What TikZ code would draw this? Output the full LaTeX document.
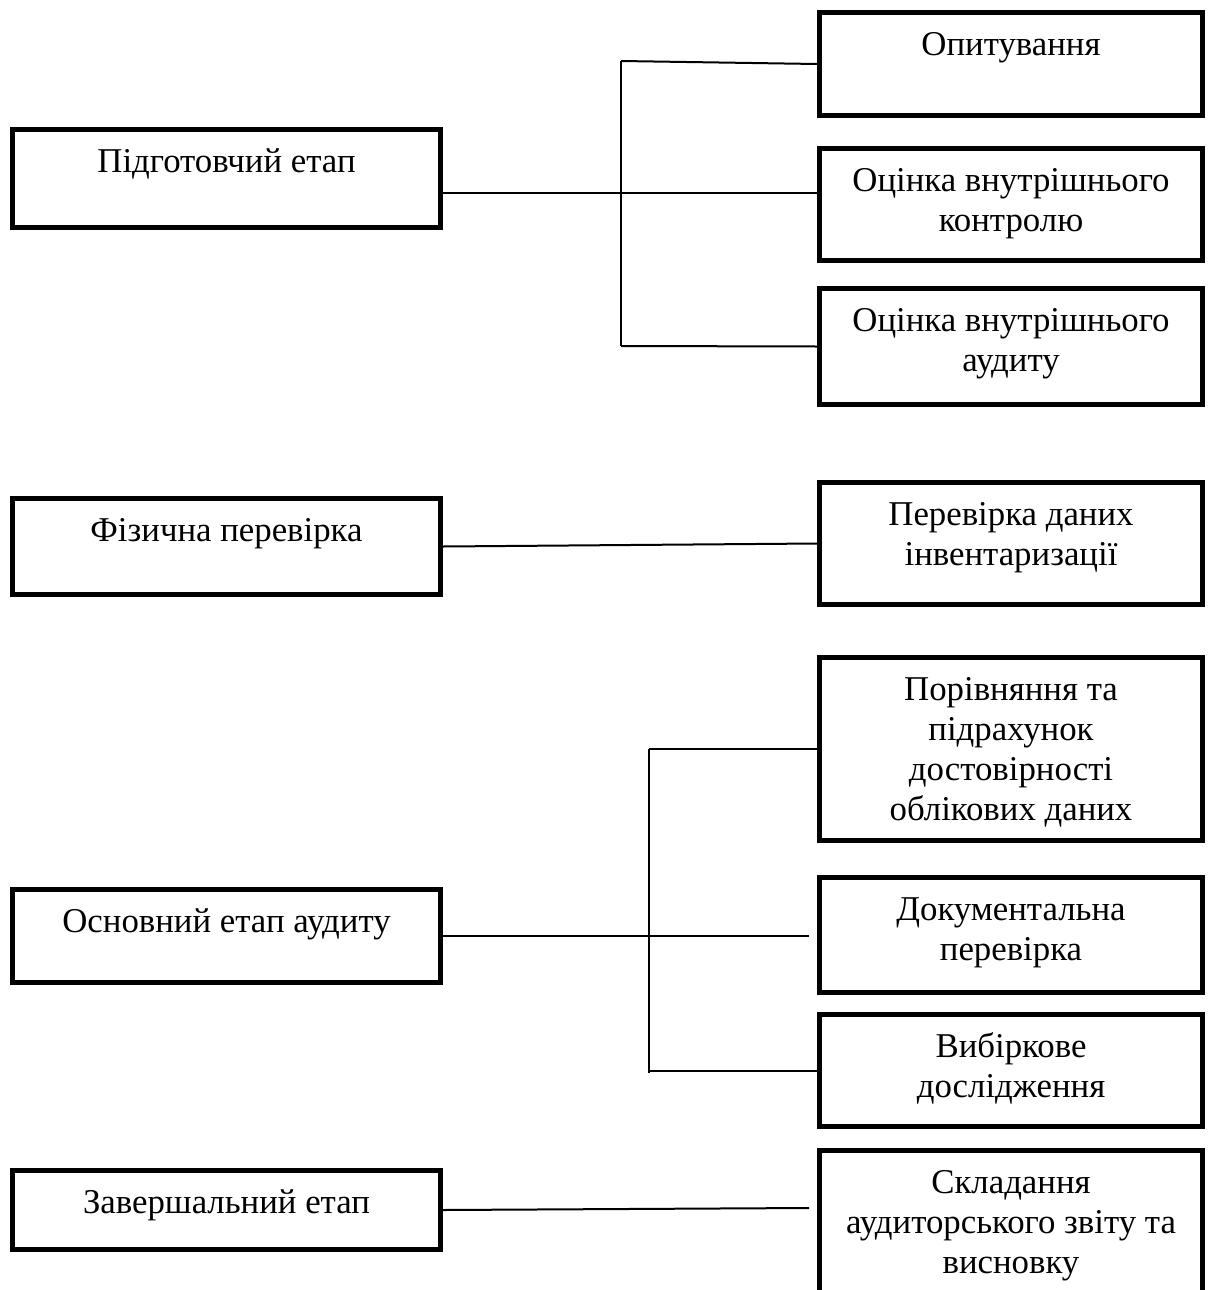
\documentclass[tikz,border=0pt]{standalone}
\usepackage{fontspec}
\setmainfont{Liberation Serif}
\begin{document}
\begin{tikzpicture}[x=0.5pt,y=-0.5pt,
  stagebox/.style={draw=black,line width=2.5pt,rectangle,inner sep=0pt,minimum width=214pt},
  subbox/.style={draw=black,line width=2.5pt,rectangle,inner sep=0pt,minimum width=191.5pt},
  lbl/.style={anchor=north,inner sep=0pt,align=center,font=\fontsize{17.4}{20}\selectfont},
  conn/.style={draw=black,line width=1pt}]
\clip (0,0) rectangle (1214,1290);
\fill[white] (0,0) rectangle (1214,1290);
% left column
\node[stagebox,minimum height=49pt] (L1) at (226.5,178.5) {};
\node[stagebox,minimum height=48pt] (L2) at (226.5,546.5) {};
\node[stagebox,minimum height=46.5pt] (L3) at (226.5,936) {};
\node[stagebox,minimum height=39.5pt] (L4) at (226.5,1210) {};
% right column
\node[subbox,minimum height=51.5pt] (R1) at (1011,64) {};
\node[subbox,minimum height=56pt] (R2) at (1011,204.5) {};
\node[subbox,minimum height=58pt] (R3) at (1011,346.5) {};
\node[subbox,minimum height=61pt] (R4) at (1011,543.5) {};
\node[subbox,minimum height=91.5pt] (R5) at (1011,749) {};
\node[subbox,minimum height=57.5pt] (R6) at (1011,935) {};
\node[subbox,minimum height=56pt] (R7) at (1011,1070.5) {};
\node[subbox,minimum height=73.5pt] (R8) at (1011,1224) {};
% texts
\node[lbl] (tL1) at ([yshift=-8.5pt]L1.north) {\strut Підготовчий етап};
\node[lbl] (tL2) at ([yshift=-8.5pt]L2.north) {\strut Фізична перевірка};
\node[lbl] (tL3) at ([yshift=-8.5pt]L3.north) {\strut Основний етап аудиту};
\node[lbl] (tL4) at ([yshift=-8.5pt]L4.north) {\strut Завершальний етап};
\node[lbl] (tR1) at ([yshift=-8.5pt]R1.north) {\strut Опитування};
\node[lbl] (tR2) at ([yshift=-8.5pt]R2.north) {\strut Оцінка внутрішнього\\контролю};
\node[lbl] (tR3) at ([yshift=-8.5pt]R3.north) {\strut Оцінка внутрішнього\\аудиту};
\node[lbl] (tR4) at ([yshift=-8.5pt]R4.north) {\strut Перевірка даних\\інвентаризації};
\node[lbl] (tR5) at ([yshift=-8.5pt]R5.north) {\strut Порівняння та\\підрахунок\\достовірності\\облікових даних};
\node[lbl] (tR6) at ([yshift=-8.5pt]R6.north) {\strut Документальна\\перевірка};
\node[lbl] (tR7) at ([yshift=-8.5pt]R7.north) {\strut Вибіркове\\дослідження};
\node[lbl] (tR8) at ([yshift=-8.5pt]R8.north) {\strut Складання\\аудиторського звіту та\\висновку};
% junction coordinates
\coordinate (j1top) at (621,61);
\coordinate (j1bot) at (621,346);
\coordinate (j2top) at (649,749);
\coordinate (j2bot) at (649,1073);
\coordinate (e3) at (809,936);
\coordinate (e4) at (809,1208);
% connectors: preparatory stage
\draw[conn] (j1top) -- (j1bot);
\draw[conn] (j1top) -- (R1.west);
\draw[conn] ([yshift=-7.25pt]L1.east) -- ([yshift=5.75pt]R2.west);
\draw[conn] (j1bot) -- (R3.west);
% physical check
\draw[conn] (L2.east) -- (R4.west);
% main stage
\draw[conn] (j2top) -- (j2bot);
\draw[conn] (j2top) -- (R5.west);
\draw[conn] (L3.east) -- (e3);
\draw[conn] (R7.west -| j2top) -- (R7.west);
% final stage
\draw[conn] (L4.east) -- (e4);
\end{tikzpicture}
\end{document}
